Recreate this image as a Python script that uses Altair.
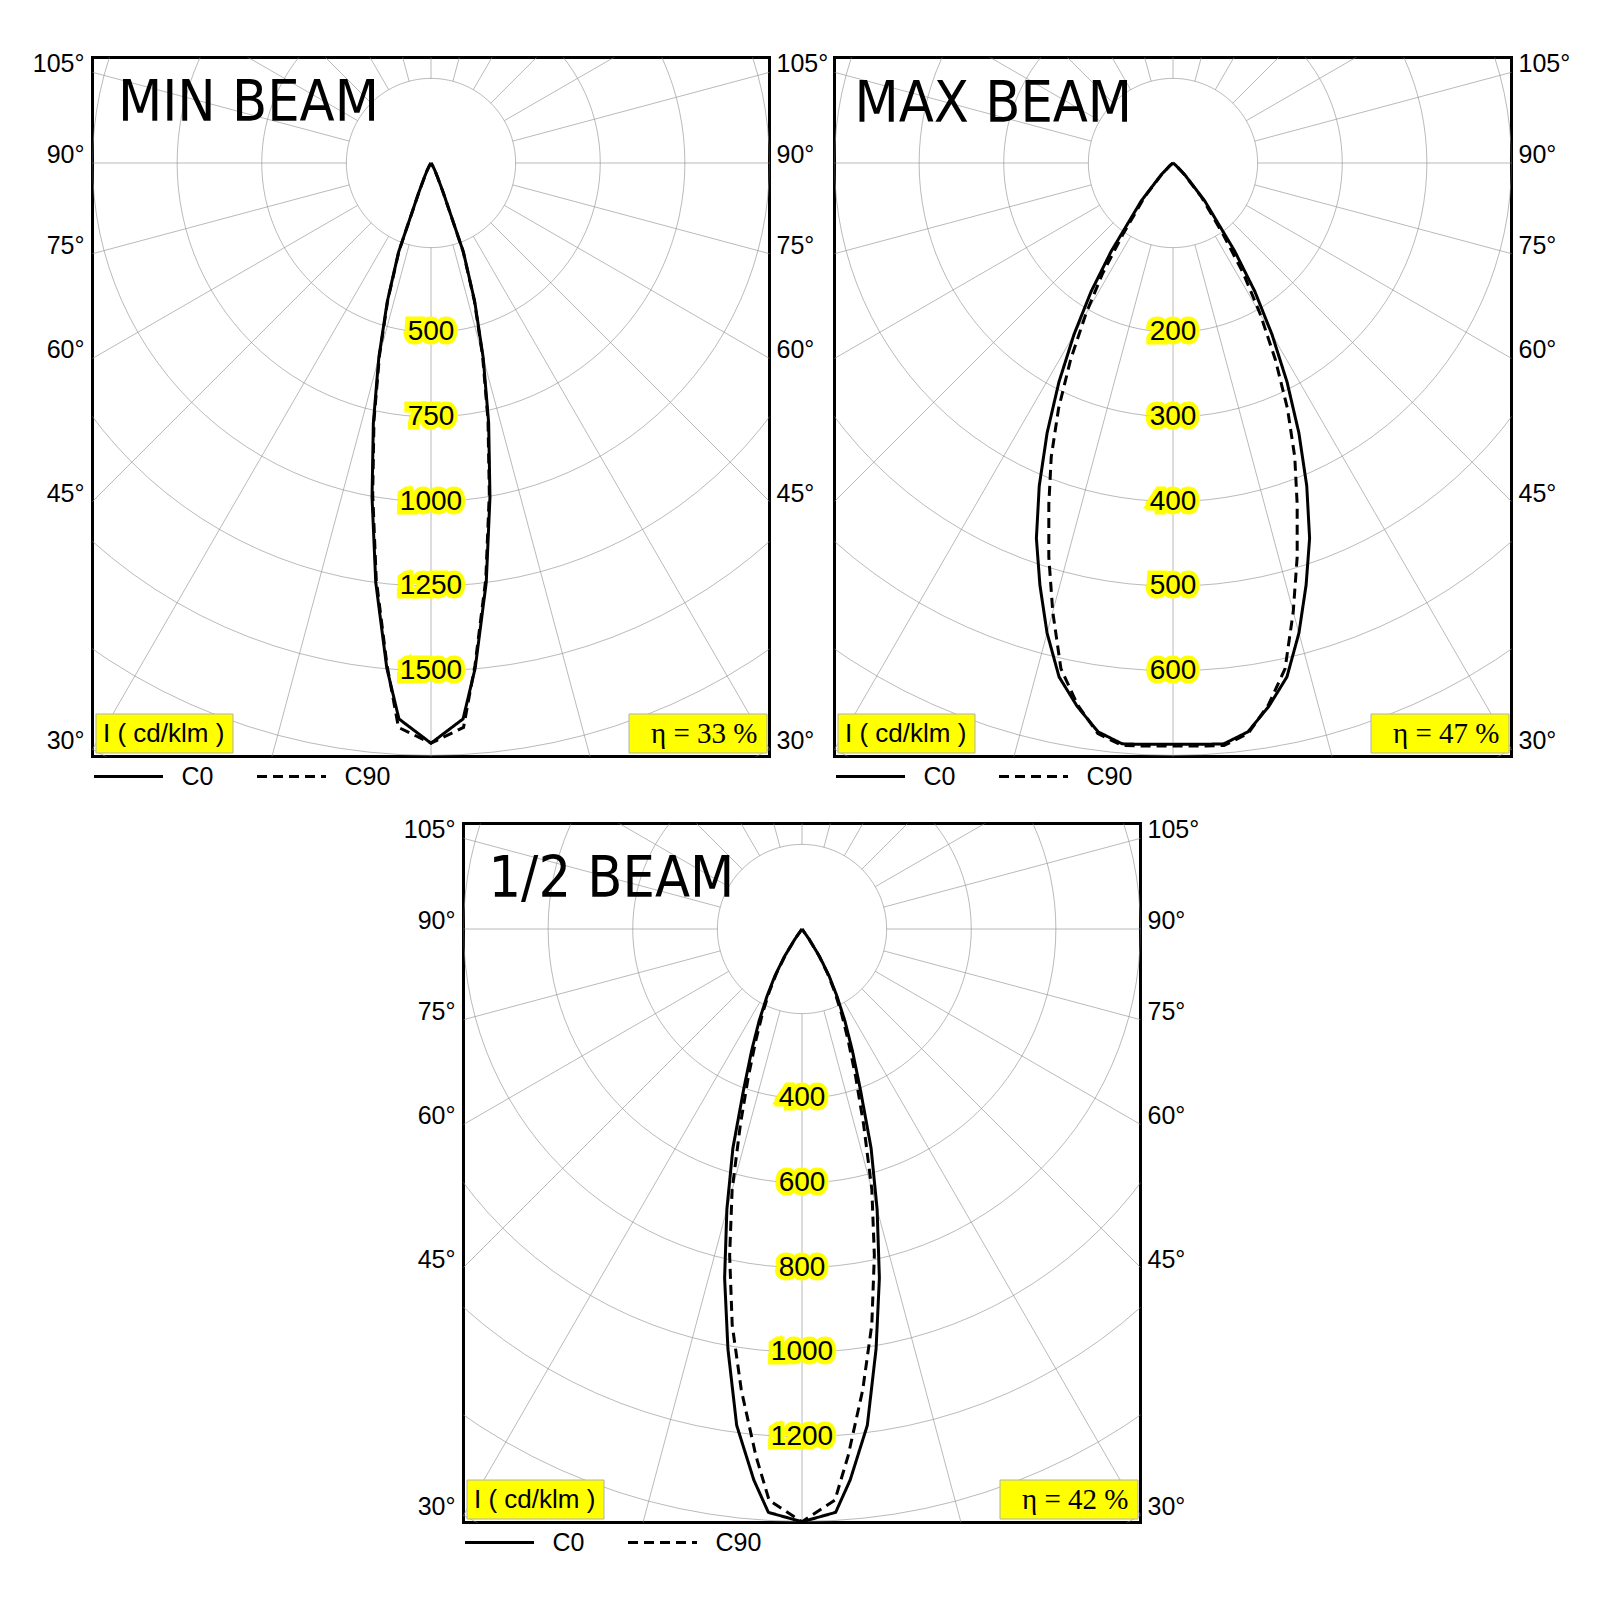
import pandas as pd
import altair as alt

# luminous intensity (cd/klm) per gamma angle
GAMMA = [0, 3.3, 5, 7.5, 10, 12.5, 15, 17.5, 20, 22.5, 25, 27.5, 30, 32.5, 35, 40, 45, 50, 55, 60, 90]

MIN_C0 = [1714, 1645, 1498, 1250, 1003, 787, 596, 430, 280, 95, 45, 25, 12, 5, 0, 0, 0, 0, 0, 0, 0]
MIN_C90 = [1714, 1670, 1490, 1240, 992, 778, 588, 425, 276, 92, 43, 24, 11, 5, 0, 0, 0, 0, 0, 0, 0]
MAX_C0 = [687, 688, 689, 678, 652, 622, 575, 523, 472, 413, 352, 292, 234, 180, 127, 58, 20, 5, 0, 0, 0]
MAX_C90 = [689, 690, 691, 680, 650, 612, 549, 488, 429, 376, 320, 262, 206, 155, 104, 52, 18, 4, 0, 0, 0]
HALF_C0 = [1401, 1381, 1307, 1183, 1008, 845, 686, 543, 403, 311, 240, 179, 128, 78, 30, 0, 0, 0, 0, 0, 0]
HALF_C90 = [1401, 1352, 1250, 1099, 950, 790, 638, 484, 370, 285, 222, 168, 120, 72, 28, 0, 0, 0, 0, 0, 0]

TITLES = ["MIN BEAM", "MAX BEAM", "1/2 BEAM"]
RING_STEP = [250, 100, 200]
ETA = [33, 47, 42]
PLANES = ["C0", "C90"]
LABEL_ANGLES = [105, 90, 75, 60, 45, 30]
RING_LABELS = [2, 3, 4, 5, 6]
UNIT = "I ( cd/klm )"

W, H = 677, 699
CY = 105.5  # frame top to polar origin, px
YELLOW = "#ffff00"
GRID = "#8c8c8c"
SANS = "Liberation Sans"
RAD = "PI / 180"


def panel(title, step, c0, c90, eta, left=True, title_x=27, title_y=63):
    e = 4 * step
    k = (W / 2) / e
    xs = alt.Scale(domain=[-e, e], nice=False, zero=False)
    ys = alt.Scale(domain=[-(H - CY) / k, CY / k], nice=False, zero=False)

    def X(f, **kw):
        return alt.X(f, scale=xs, axis=None, **kw)

    def Y(f):
        return alt.Y(f, scale=ys, axis=None)

    rings = alt.Chart(alt.sequence(0, 363, 3, as_="a")).transform_calculate(
        r="[" + ",".join(str(step * n) for n in range(1, 10)) + "]"
    ).transform_flatten(["r"]).transform_calculate(
        x=f"datum.r * sin(datum.a * {RAD})", y=f"-datum.r * cos(datum.a * {RAD})"
    ).mark_line(clip=True, color=GRID, strokeWidth=1, opacity=0.6).encode(
        x=X("x:Q"), y=Y("y:Q"), detail="r:N", order="a:Q")

    spokes = alt.Chart(alt.sequence(0, 360, 15, as_="a")).transform_calculate(
        x=f"{step} * sin(datum.a * {RAD})", y=f"-{step} * cos(datum.a * {RAD})",
        x2=f"{12 * step} * sin(datum.a * {RAD})", y2=f"-{12 * step} * cos(datum.a * {RAD})"
    ).mark_rule(clip=True, color=GRID, strokeWidth=1, opacity=0.6).encode(
        x=X("x:Q"), y=Y("y:Q"), x2=alt.X2("x2"), y2=alt.Y2("y2"))

    rows = []
    for plane, vals in zip(PLANES, (c0, c90)):
        for g, i in zip(GAMMA, vals):
            for side in ((1,) if g == 0 else (-1, 1)):
                rows.append({"plane": plane, "gamma": g, "side": side, "i": i})
    base = alt.Chart(pd.DataFrame(rows)).transform_calculate(
        s="datum.side * datum.gamma",
        x=f"datum.side * datum.i * sin(datum.gamma * {RAD})",
        y=f"-datum.i * cos(datum.gamma * {RAD})")

    fill = base.transform_filter("datum.side > 0").transform_calculate(
        xl="-datum.x"
    ).mark_area(orient="horizontal", color=YELLOW).encode(
        y=Y("y:Q"), x=X("xl:Q", stack=None), x2=alt.X2("x"), detail="plane:N", order="gamma:Q")

    legend = alt.Legend(
        title=None, orient="none", legendX=0, legendY=H - 16, direction="horizontal",
        symbolType="stroke", symbolSize=4761, symbolStrokeWidth=3, symbolStrokeColor="black",
        labelFont=SANS, labelFontSize=25, labelColor="black", labelOffset=17, columnPadding=37)
    lines = base.mark_line(color="black", strokeWidth=3).encode(
        x=X("x:Q"), y=Y("y:Q"), order="s:Q",
        strokeDash=alt.StrokeDash("plane:N", scale=alt.Scale(domain=PLANES, range=[[1, 0], [10, 6]]),
                                  legend=legend))

    rl = alt.Chart(pd.DataFrame({"v": [step * n for n in RING_LABELS]})).transform_calculate(
        x="0", y="-datum.v")
    halo = rl.mark_text(font=SANS, fontSize=28, baseline="middle", color=YELLOW,
                        stroke=YELLOW, strokeWidth=9).encode(x=X("x:Q"), y=Y("y:Q"), text="v:N")
    rtext = rl.mark_text(font=SANS, fontSize=28, baseline="middle", color="black").encode(
        x=X("x:Q"), y=Y("y:Q"), text="v:N")

    al = pd.DataFrame({"a": LABEL_ANGLES, "t": [f"{a}°" for a in LABEL_ANGLES]})
    ab = alt.Chart(al).transform_calculate(
        y=f"-{e} * cos(datum.a * {RAD}) / sin(datum.a * {RAD})", xl=str(-e), xr=str(e))
    ang = [ab.mark_text(align="left", baseline="alphabetic", dx=7, font=SANS, fontSize=25,
                        color="black").encode(x=X("xr:Q"), y=Y("y:Q"), text="t:N")]
    if left:
        ang.append(ab.mark_text(align="right", baseline="alphabetic", dx=-8, font=SANS, fontSize=25,
                                color="black").encode(x=X("xl:Q"), y=Y("y:Q"), text="t:N"))

    one = alt.Chart(pd.DataFrame({"unit": [UNIT], "eta": [f"η = {eta} %"], "title": [title]}))
    ubox = one.mark_rect(fill=YELLOW, stroke="#b0b0b0", strokeWidth=1).encode(
        x=alt.value(3.5), x2=alt.value(140.5), y=alt.value(656.5), y2=alt.value(695.5))
    utext = one.mark_text(align="left", baseline="alphabetic", font=SANS, fontSize=26,
                          color="black").encode(x=alt.value(10.5), y=alt.value(684.5), text="unit:N")
    ebox = one.mark_rect(fill=YELLOW, stroke="#b0b0b0", strokeWidth=1).encode(
        x=alt.value(536.5), x2=alt.value(674.5), y=alt.value(656.5), y2=alt.value(695.5))
    etext = one.mark_text(align="right", baseline="alphabetic", font="Liberation Serif",
                          fontSize=29, color="black").encode(
        x=alt.value(665), y=alt.value(685), text="eta:N")
    ttext = one.mark_text(align="left", baseline="alphabetic",
                          font="DejaVu Sans Condensed, Open Sans, sans-serif", fontSize=57,
                          color="black").encode(x=alt.value(title_x), y=alt.value(title_y), text="title:N")

    return alt.layer(fill, rings, spokes, lines, halo, rtext, ubox, utext, ebox, etext, ttext,
                     *ang).properties(width=W, height=H)


def independent(c):
    return c.resolve_scale(x="independent", y="independent", strokeDash="independent").resolve_legend(
        strokeDash="independent")


p1 = panel(TITLES[0], RING_STEP[0], MIN_C0, MIN_C90, ETA[0], left=True, title_x=25.5, title_y=63.5)
p2 = panel(TITLES[1], RING_STEP[1], MAX_C0, MAX_C90, ETA[1], left=False, title_x=20, title_y=64)
p3 = panel(TITLES[2], RING_STEP[2], HALF_C0, HALF_C90, ETA[2], left=True, title_x=25, title_y=73.5)

# empty view that pushes the third diagram under the middle of the top row
spacer = alt.Chart(pd.DataFrame({"v": [0]})).mark_point(opacity=0).encode(
    x=alt.value(100), y=alt.value(5)).properties(width=297, height=10, view=alt.ViewBackground(stroke="transparent"))

top = independent(alt.hconcat(p1, p2, spacing=2))
bottom = independent(alt.hconcat(spacer, p3, spacing=10))
chart = independent(alt.vconcat(top, bottom, spacing=25)).properties(
    padding={"left": 22.5, "top": 42.5, "right": 10, "bottom": 10}, background="white"
).configure_view(stroke="black", strokeWidth=3)

chart.save("out.html", embed_options={"renderer": "svg", "actions": False})
